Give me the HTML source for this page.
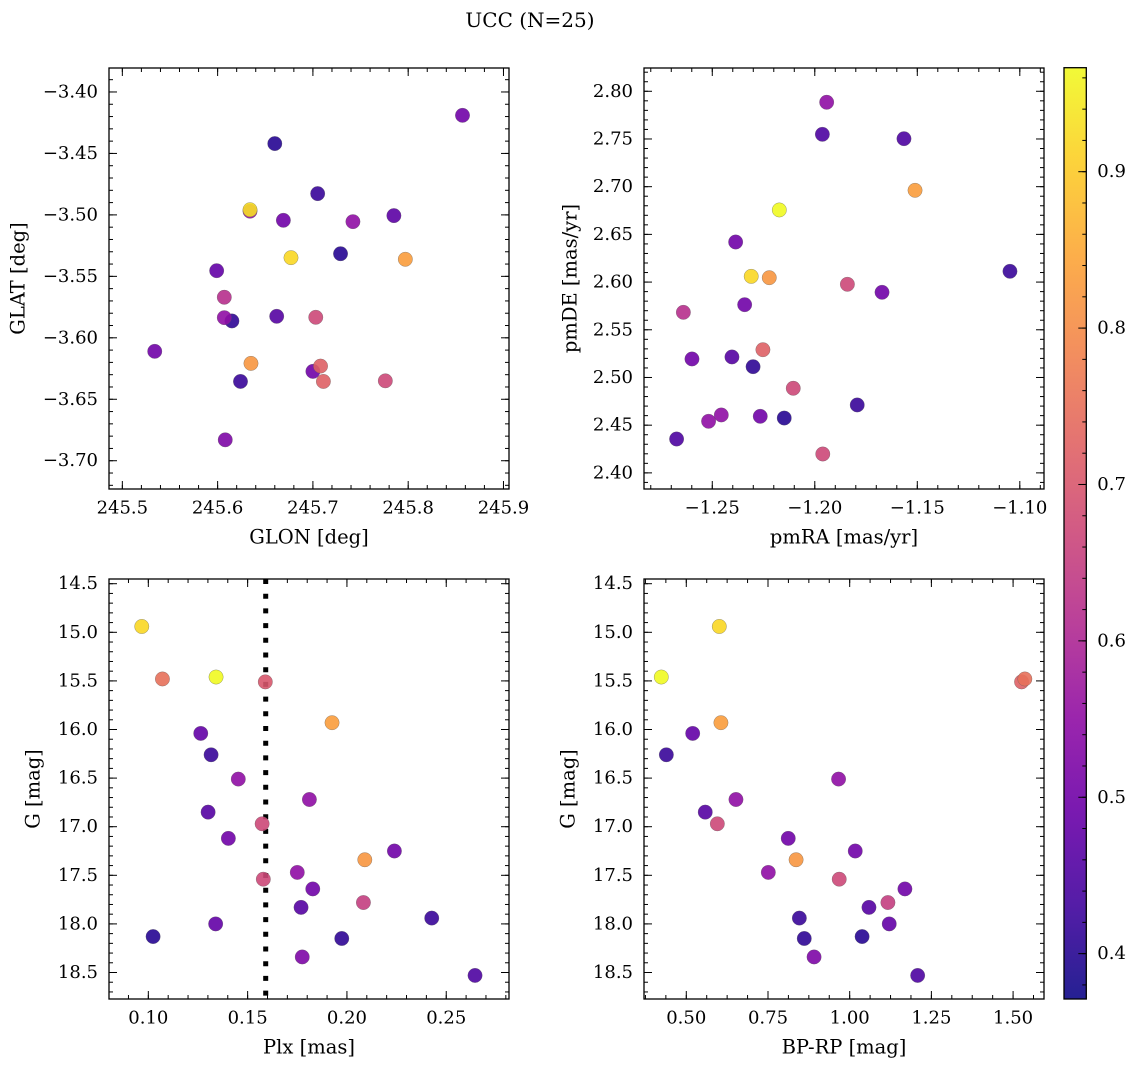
<!DOCTYPE html>
<html><head><meta charset="utf-8"><style>
html,body{margin:0;padding:0;background:#fff;}
svg{display:block;font-family:"DejaVu Serif","Liberation Serif",serif;}
</style></head><body>
<svg id="fig" width="1136" height="1067" viewBox="0 0 1136 1067" xmlns="http://www.w3.org/2000/svg">
<rect width="1136" height="1067" fill="#fff"/>
<text x="530" y="20" font-size="20" text-anchor="middle" dominant-baseline="central">UCC (N=25)</text>
</svg>
<script>
// ---- data ----
const glon = [245.857,245.660,245.634,245.634,245.705,245.669,245.742,245.785,245.677,245.729,245.797,245.599,245.607,245.607,245.615,245.662,245.703,245.534,245.635,245.708,245.700,245.624,245.711,245.776,245.608];
const glat = [-3.419,-3.442,-3.4958,-3.497,-3.4827,-3.5044,-3.5055,-3.5006,-3.5348,-3.5316,-3.5361,-3.5454,-3.567,-3.5836,-3.5863,-3.5825,-3.5833,-3.611,-3.6208,-3.623,-3.6273,-3.6355,-3.6355,-3.635,-3.683];
const cPos = [0.5,0.4,0.93,0.55,0.42,0.5,0.55,0.47,0.92,0.4,0.83,0.48,0.62,0.55,0.41,0.46,0.67,0.5,0.82,0.72,0.5,0.42,0.72,0.67,0.52];

const pmra = [-1.1942,-1.1963,-1.1565,-1.1511,-1.2173,-1.2386,-1.231,-1.2222,-1.1048,-1.1841,-1.1672,-1.2342,-1.2641,-1.2253,-1.2599,-1.2404,-1.2301,-1.2105,-1.1793,-1.2456,-1.2266,-1.2149,-1.2518,-1.2674,-1.1961];
const pmde = [2.7885,2.7549,2.7503,2.6962,2.6756,2.642,2.606,2.6046,2.6113,2.5977,2.5893,2.5763,2.5683,2.5291,2.5194,2.5215,2.5113,2.4887,2.4712,2.4607,2.4593,2.4575,2.4541,2.4355,2.4198];
const cPm = [0.55,0.45,0.45,0.83,0.97,0.5,0.92,0.82,0.42,0.67,0.5,0.5,0.62,0.72,0.5,0.46,0.41,0.67,0.42,0.55,0.5,0.4,0.55,0.45,0.67];

const plx = [0.0967,0.1071,0.1341,0.1589,0.1925,0.1264,0.1316,0.1453,0.1811,0.1301,0.1573,0.1403,0.2239,0.209,0.1579,0.175,0.1828,0.2083,0.1769,0.2427,0.1339,0.1024,0.1974,0.1775,0.2645];
const gPlx = [14.94,15.48,15.46,15.51,15.93,16.04,16.26,16.51,16.72,16.85,16.97,17.12,17.25,17.34,17.54,17.47,17.64,17.78,17.83,17.94,18.00,18.13,18.15,18.34,18.53];
const cPlx = [0.92,0.75,0.97,0.7,0.83,0.48,0.42,0.55,0.55,0.46,0.67,0.5,0.5,0.82,0.67,0.55,0.5,0.65,0.46,0.42,0.48,0.4,0.41,0.52,0.45];
const plxLine = [0.1591];

const bprp = [0.601,0.4235,1.526,1.536,0.606,0.5196,0.439,0.966,0.652,0.558,0.595,0.812,1.017,0.836,0.751,0.968,1.169,1.117,1.059,0.846,1.121,1.038,0.861,0.891,1.208];
const gCmd = [14.94,15.46,15.51,15.48,15.93,16.04,16.26,16.51,16.72,16.85,16.97,17.12,17.25,17.34,17.47,17.54,17.64,17.78,17.83,17.94,18.00,18.13,18.15,18.34,18.53];
const cCmd = [0.92,0.97,0.72,0.75,0.83,0.48,0.42,0.55,0.55,0.46,0.67,0.5,0.5,0.82,0.55,0.67,0.5,0.65,0.46,0.42,0.48,0.4,0.41,0.52,0.45];

const ticksGlon = [245.5,245.6,245.7,245.8,245.9];
const ticksGlat = [-3.40,-3.45,-3.50,-3.55,-3.60,-3.65,-3.70];
const ticksPmra = [-1.25,-1.20,-1.15,-1.10];
const ticksPmde = [2.40,2.45,2.50,2.55,2.60,2.65,2.70,2.75,2.80];
const ticksPlx = [0.10,0.15,0.20,0.25];
const ticksG = [14.5,15.0,15.5,16.0,16.5,17.0,17.5,18.0,18.5];
const ticksBprp = [0.50,0.75,1.00,1.25,1.50];
const ticksCbar = [0.4,0.5,0.6,0.7,0.8,0.9];
const cMin = 0.371, cMax = 0.9665;

// ---- helpers ----
const NS = "http://www.w3.org/2000/svg";
const svg = document.getElementById('fig');
function mk(tag, attrs, parent){
  const e = document.createElementNS(NS, tag);
  for (const k in attrs) e.setAttribute(k, attrs[k]);
  (parent||svg).appendChild(e);
  return e;
}
const plasmaStops = ["#0d0887","#41049d","#6a00a8","#8f0da4","#b12a90","#cc4778","#e16462","#f2844b","#fca636","#fcce25","#f0f921"];
function hex2rgb(h){return [parseInt(h.slice(1,3),16),parseInt(h.slice(3,5),16),parseInt(h.slice(5,7),16)];}
function plasma(t){
  t = Math.max(0, Math.min(1, t));
  const f = t*10, i = Math.min(9, Math.floor(f)), r = f - i;
  const a = hex2rgb(plasmaStops[i]), b = hex2rgb(plasmaStops[i+1]);
  return `rgb(${a.map((v,k)=>Math.round(v+(b[k]-v)*r)).join(',')})`;
}
function cmap(c){ return plasma((c - cMin)/(cMax - cMin)); }
function fmt(v, d){ const s = v.toFixed(d); return s.replace('-', '\u2212'); }

function panel(cfg){
  const {L,T,R,B,xlim,ylim,xt,yt,xMinor,yMinor,xd,yd,xlabel,ylabel,ylabX,name} = cfg;
  const g = mk('g', {});
  
  
  const sx = v => L + (v - xlim[0])/(xlim[1]-xlim[0])*(R-L);
  const sy = v => T + (v - ylim[0])/(ylim[1]-ylim[0])*(B-T);
  const cid = name + '-clip';
  const cp = mk('clipPath', {id: cid}, g);
  mk('rect', {x:L, y:T, width:R-L, height:B-T}, cp);
  const plot = mk('g', {'clip-path': `url(#${cid})`}, g);
  const tk = mk('g', {stroke:'#000', 'stroke-width':1}, g);
  const xs = Math.min(xlim[0],xlim[1]), xe = Math.max(xlim[0],xlim[1]);
  for (let v = Math.ceil(xs/xMinor)*xMinor; v <= xe; v += xMinor){
    const x = sx(v);
    mk('line', {x1:x, x2:x, y1:B, y2:B-4}, tk);
    mk('line', {x1:x, x2:x, y1:T, y2:T+4}, tk);
  }
  const ys = Math.min(ylim[0],ylim[1]), ye = Math.max(ylim[0],ylim[1]);
  for (let v = Math.ceil(ys/yMinor)*yMinor; v <= ye; v += yMinor){
    const y = sy(v);
    mk('line', {x1:L, x2:L+4, y1:y, y2:y}, tk);
    mk('line', {x1:R, x2:R-4, y1:y, y2:y}, tk);
  }
  xt.forEach(v => {
    const x = sx(v);
    mk('line', {x1:x, x2:x, y1:B, y2:B-8}, tk);
    mk('line', {x1:x, x2:x, y1:T, y2:T+8}, tk);
    const t = mk('text', {x:x, y:B+19, 'font-size':18, 'text-anchor':'middle', 'dominant-baseline':'central'}, g);
    
    
    t.textContent = fmt(v, xd);
  });
  yt.forEach(v => {
    const y = sy(v);
    mk('line', {x1:L, x2:L+8, y1:y, y2:y}, tk);
    mk('line', {x1:R, x2:R-8, y1:y, y2:y}, tk);
    const t = mk('text', {x:L-11, y:y, 'font-size':18, 'text-anchor':'end', 'dominant-baseline':'central'}, g);
    
    
    t.textContent = fmt(v, yd);
  });
  mk('rect', {x:L, y:T, width:R-L, height:B-T, fill:'none', stroke:'#000', 'stroke-width':1.3}, g);
  const xl = mk('text', {x:(L+R)/2, y:B+48, 'font-size':19.5, 'text-anchor':'middle', 'dominant-baseline':'central'}, g);
  
  
  xl.textContent = xlabel;
  const yl = mk('text', {x:ylabX, y:(T+B)/2, 'font-size':19.5, 'text-anchor':'middle', 'dominant-baseline':'central', transform:`rotate(-90 ${ylabX} ${(T+B)/2})`}, g);
  
  
  yl.textContent = ylabel;
  return {plot, sx, sy};
}

function scatter(p, xs, ys, cs, name){
  const idx = xs.map((_, i) => i).sort((a, b) => cs[a] - cs[b]);
  idx.forEach(i => {
    const c = mk('circle', {cx:p.sx(xs[i]), cy:p.sy(ys[i]), r:7.2, fill:cmap(cs[i]), 'fill-opacity':0.9, stroke:'rgba(90,90,90,0.6)', 'stroke-width':0.5}, p.plot);
    
    
  });
}

const p1 = panel({name:'glon-glat-panel', L:109, T:68, R:509, B:489, xlim:[245.486,245.9058], ylim:[-3.3805,-3.723],
  xt:ticksGlon, yt:ticksGlat, xMinor:0.02, yMinor:0.01, xd:1, yd:2, xlabel:'GLON [deg]', ylabel:'GLAT [deg]', ylabX:18});
scatter(p1, glon, glat, cPos, 'star-point');

const p2 = panel({name:'proper-motion-panel', L:644, T:68, R:1044, B:489, xlim:[-1.2833,-1.0882], ylim:[2.8244,2.3831],
  xt:ticksPmra, yt:ticksPmde, xMinor:0.01, yMinor:0.01, xd:2, yd:2, xlabel:'pmRA [mas/yr]', ylabel:'pmDE [mas/yr]', ylabX:570});
scatter(p2, pmra, pmde, cPm, 'star-point');

const p3 = panel({name:'plx-g-panel', L:109, T:579, R:509, B:999, xlim:[0.0802,0.2816], ylim:[14.4516,18.7726],
  xt:ticksPlx, yt:ticksG, xMinor:0.01, yMinor:0.1, xd:2, yd:1, xlabel:'Plx [mas]', ylabel:'G [mag]', ylabX:33});
plxLine.forEach(v => {
  const l = mk('line', {x1:p3.sx(v), x2:p3.sx(v), y1:579, y2:999, stroke:'#000', 'stroke-width':5, 'stroke-dasharray':'5 9.7'}, p3.plot);
  
  
});
scatter(p3, plx, gPlx, cPlx, 'star-point');

const p4 = panel({name:'cmd-panel', L:644, T:579, R:1044, B:999, xlim:[0.3706,1.5946], ylim:[14.4516,18.7726],
  xt:ticksBprp, yt:ticksG, xMinor:0.0625, yMinor:0.1, xd:2, yd:1, xlabel:'BP-RP [mag]', ylabel:'G [mag]', ylabX:568});
scatter(p4, bprp, gCmd, cCmd, 'star-point');

const cb = mk('g', {});


const defs = mk('defs', {}, cb);
const lg = mk('linearGradient', {id:'cbgrad', x1:0, y1:0, x2:0, y2:1}, defs);
for (let k = 0; k <= 40; k++){
  const v = cMax - (cMax - cMin)*k/40;
  mk('stop', {offset:(k/40), 'stop-color':cmap(v), 'stop-opacity':0.9}, lg);
}
const CL = 1064, CR = 1086.3, CT = 67.7, CB = 999;
mk('rect', {x:CL, y:CT, width:CR-CL, height:CB-CT, fill:'url(#cbgrad)', stroke:'#000', 'stroke-width':1.3}, cb);
const cy = v => CT + (cMax - v)/(cMax - cMin)*(CB-CT);
for (let v = 0.38; v <= cMax; v += 0.02){
  mk('line', {x1:CR, x2:CR-4, y1:cy(v), y2:cy(v), stroke:'#000', 'stroke-width':1}, cb);
}
ticksCbar.forEach(v => {
  mk('line', {x1:CR, x2:CR-8, y1:cy(v), y2:cy(v), stroke:'#000', 'stroke-width':1}, cb);
  const t = mk('text', {x:CR+11, y:cy(v), 'font-size':18, 'dominant-baseline':'central'}, cb);
  
  
  t.textContent = v.toFixed(1);
});
</script>
</body></html>
